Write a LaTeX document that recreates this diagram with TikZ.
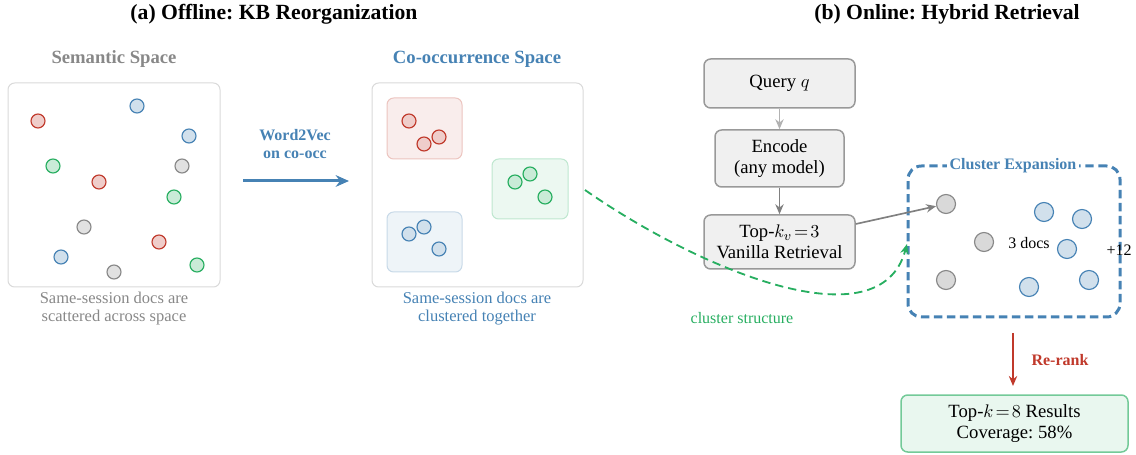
\documentclass[tikz,border=0pt]{standalone}
\usepackage{amsmath,amssymb}
\usepackage{fontspec}
\setmainfont{Liberation Serif}
\usetikzlibrary{arrows.meta}
\frenchspacing

\definecolor{dotgray}{HTML}{888888}
\definecolor{dotred}{HTML}{C0392B}
\definecolor{dotblue}{HTML}{4682B4}
\definecolor{dotgreen}{HTML}{27AE60}

\newcommand{\titlefont}{\fontsize{13}{15}\selectfont\bfseries}
\newcommand{\bodyfont}{\fontsize{11.2}{12.6}\selectfont}
\newcommand{\capfont}{\fontsize{9.9}{10.8}\selectfont}
\newcommand{\labfont}{\fontsize{9.6}{11.2}\selectfont}

\begin{document}
\begin{tikzpicture}[x=0.6pt, y=-0.6pt, thick, >={Stealth[length=6pt,width=5pt]}]
    \tikzstyle{panel} = [draw=black!15, line width=0.6pt, rounded corners=4pt, inner sep=0pt]
    \tikzstyle{doc} = [circle, line width=0.7pt, minimum size=8.4pt, inner sep=0pt]
    \tikzstyle{bigdoc} = [circle, line width=0.7pt, minimum size=11.4pt, inner sep=0pt]
    \tikzstyle{process} = [draw=black!40, fill=black!6, line width=0.9pt, rounded corners=4pt, align=center, inner sep=0pt, font=\bodyfont]
    \tikzstyle{transition} = [->, line width=1pt]
    \tikzstyle{caption} = [font=\capfont, align=center]
    \useasboundingbox (0,0) rectangle (1136,455);

    % titles
    \node[font=\titlefont] (ta) at (274,14) {(a) Offline: KB Reorganization};
    \node[font=\titlefont] (tb) at (947,14) {(b) Online: Hybrid Retrieval};

    % semantic space
    \node[font=\bodyfont\bfseries, text=dotgray] (semt) at (114,59) {Semantic Space};
    \node[panel, minimum width=127.2pt, minimum height=122.4pt] (sem) at (114,185) {};
    \foreach \x/\y/\c in {38/121/dotred, 137/106/dotblue, 189/136/dotblue, 53/166/dotgreen,
        182/166/dotgray, 99/182/dotred, 174/197/dotgreen, 84/227/dotgray, 159/242/dotred,
        61/257/dotblue, 114/272/dotgray, 197/265/dotgreen}
        \node[doc, draw=\c, fill=\c!25] at (\x,\y) {};
    \node[caption, text=dotgray] (semc) at (114,309) {Same-session docs are\\scattered across space};

    % word2vec arrow
    \coordinate (w1) at (243,181);
    \coordinate (w2) at (349,181);
    \draw[-{Stealth[length=8pt,width=7pt]}, dotblue, line width=1.8pt] (w1) -- (w2);
    \node[font=\labfont\bfseries, text=dotblue, align=center] (w2v) at (295,144) {Word2Vec\\on co-occ};

    % co-occurrence space
    \node[font=\bodyfont\bfseries, text=dotblue] (coot) at (477,59) {Co-occurrence Space};
    \node[panel, minimum width=126.6pt, minimum height=122.4pt] (coo) at (477.5,185) {};
    \node[panel, draw=dotred!30, fill=dotred!9, minimum width=45pt, minimum height=36.6pt] (cred) at (424.5,128.5) {};
    \node[panel, draw=dotgreen!30, fill=dotgreen!9, minimum width=45.6pt, minimum height=36pt] (cgreen) at (530,189) {};
    \node[panel, draw=dotblue!30, fill=dotblue!9, minimum width=45pt, minimum height=36pt] (cblue) at (424.5,242) {};
    \foreach \x/\y/\c in {409/121/dotred, 439/137/dotred, 424/144/dotred,
        515/182/dotgreen, 530/174/dotgreen, 545/197/dotgreen,
        409/234/dotblue, 424/227/dotblue, 439/249/dotblue}
        \node[doc, draw=\c, fill=\c!25] at (\x,\y) {};
    \node[caption, text=dotblue] (cooc) at (477,309) {Same-session docs are\\clustered together};

    % online pipeline
    \node[process, minimum width=90.6pt, minimum height=29.4pt] (query) at (779.5,83.5) {Query $q$};
    \node[process, minimum width=77.4pt, minimum height=34.2pt] (encode) at (779.5,158.5) {Encode\\(any model)};
    \node[process, minimum width=90.6pt, minimum height=32.4pt] (topk) at (779.5,242) {Top-$k_v\!=\!3$\\Vanilla Retrieval};
    \draw[transition, black!30] (query) -- (encode);
    \draw[transition, black!50] (encode) -- (topk);

    % cluster expansion
    \node[draw=dotblue, dash pattern=on 5pt off 2.8pt, line width=1.8pt, rounded corners=8pt,
        minimum width=127.2pt, minimum height=90.6pt] (exp) at (1014,241.5) {};
    \node[font=\labfont\bfseries, text=dotblue, fill=white, inner sep=1.5pt] (expt) at (1013,166) {Cluster Expansion};
    \node[bigdoc, draw=dotgray, fill=black!15] (g1) at (946,204) {};
    \node[bigdoc, draw=dotgray, fill=black!15] (g2) at (984,242) {};
    \node[bigdoc, draw=dotgray, fill=black!15] (g3) at (946,280) {};
    \foreach \x/\y in {1044/212, 1082/219, 1067/249, 1089/280, 1029/287}
        \node[bigdoc, draw=dotblue, fill=dotblue!25] at (\x,\y) {};
    \node[font=\labfont] (three) at (1029,243) {3 docs};
    \node[font=\labfont] (plus) at (1119,250) {+12};
    \draw[transition, black!50] (topk.east |- 0,224) -- (g1);

    % cluster structure link
    \coordinate (cs1) at (585,190);
    \coordinate (cs2) at (907,244);
    \draw[->, dotgreen, dash pattern=on 5pt off 3pt, line width=1.1pt]
        (cs1) .. controls (700,270) and (880,345) .. (cs2);
    \node[font=\labfont, text=dotgreen] (cst) at (742,318) {cluster structure};

    % re-rank
    \node[process, draw=dotgreen!65, fill=dotgreen!10, minimum width=136.2pt, minimum height=34.2pt] (res) at (1014.5,423.5) {Top-$k\!=\!8$ Results\\Coverage: 58\%};
    \coordinate (rr) at (1013,333);
    \draw[transition, dotred, line width=1.4pt] (rr) -- (1013,386);
    \node[font=\labfont\bfseries, text=dotred] (rrt) at (1060,360) {Re-rank};
\end{tikzpicture}
\end{document}
